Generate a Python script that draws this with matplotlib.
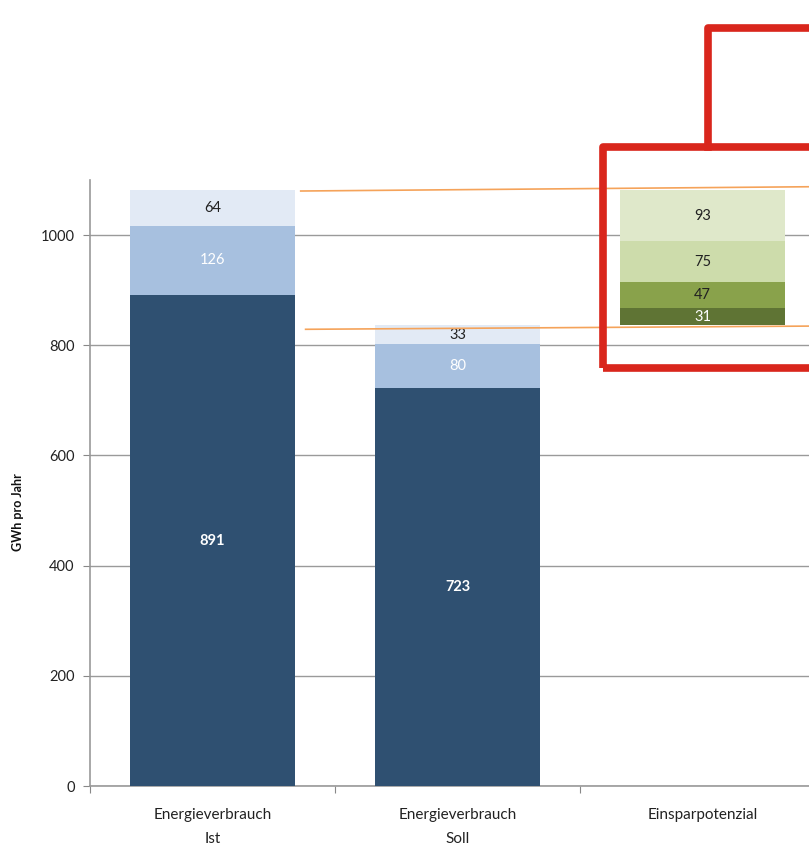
import matplotlib.pyplot as plt
from matplotlib.patches import Rectangle
from matplotlib.lines import Line2D

plt.rcParams['font.family'] = ['Lato', 'DejaVu Sans']

# Daten (GWh pro Jahr)
kategorien = ["Energieverbrauch\nIst", "Energieverbrauch\nSoll", "Einsparpotenzial"]
ist_werte = [891, 126, 64]
soll_werte = [723, 80, 33]
einspar_werte = [31, 47, 75, 93]

blau_farben = ["#2F5071", "#A7C0DF", "#E2EAF5"]
blau_text = ["white", "white", "#222222"]
blau_bold = ["bold", "normal", "normal"]
gruen_farben = ["#5F7434", "#89A24B", "#CDDCAB", "#DFE8CA"]
gruen_text = ["white", "#222222", "#222222", "#222222"]

fig = plt.figure(figsize=(8.09, 8.48), dpi=100)
ax = fig.add_axes([90 / 809, 62 / 848, 735 / 809, 606 / 848])

breite = 0.673
x = [0.5, 1.5, 2.5]

# Ist und Soll gestapelt
for xi, werte in [(x[0], ist_werte), (x[1], soll_werte)]:
    unten = 0
    for i, w in enumerate(werte):
        ax.bar(xi, w, breite, bottom=unten, color=blau_farben[i], zorder=3)
        ax.text(xi, unten + w / 2, str(w), ha="center", va="center",
                color=blau_text[i], fontsize=10.5, fontweight=blau_bold[i], zorder=4)
        unten += w

# Einsparpotenzial schwebend ab Soll-Summe
unten = sum(soll_werte)
for i, w in enumerate(einspar_werte):
    ax.bar(x[2], w, breite, bottom=unten, color=gruen_farben[i], zorder=3)
    ax.text(x[2], unten + w / 2, str(w), ha="center", va="center",
            color=gruen_text[i], fontsize=10.5, zorder=4)
    unten += w

# orange Verbindungslinien
ist_summe = sum(ist_werte)
soll_summe = sum(soll_werte)
ax.plot([0.86, 3.0], [ist_summe - 1, ist_summe + 7], color="#F5A35A", lw=1.2,
        zorder=5, clip_on=False)
ax.plot([0.88, 3.0], [soll_summe - 7, soll_summe - 1], color="#F5A35A", lw=1.2,
        zorder=5, clip_on=False)

ax.set_xlim(0, 3)
ax.set_ylim(0, 1100)
ax.set_yticks([0, 200, 400, 600, 800, 1000])
ax.set_xticks([0, 1, 2, 3])
ax.set_xticklabels([])
ax.set_xticks(x, minor=True)
ax.set_xticklabels(kategorien, minor=True, fontsize=11, color="#222222", linespacing=1.9)
ax.tick_params(axis="x", which="minor", length=0, pad=16)
ax.tick_params(axis="x", which="major", length=5, color="#888888", direction="out")
ax.tick_params(axis="y", length=5, color="#888888", labelsize=10.5, labelcolor="#222222", pad=6)

ax.yaxis.grid(True, color="#9A9A9A", lw=1.0, zorder=0)
for s in ["top", "right"]:
    ax.spines[s].set_visible(False)
for s in ["left", "bottom"]:
    ax.spines[s].set_color("#999999")
    ax.spines[s].set_linewidth(1.2)

fig.text(18 / 809, 1 - 512 / 848, "GWh pro Jahr", rotation=90, ha="center", va="center",
         fontsize=9, fontweight="bold", color="#111111")

# roter Rahmen
rot = "#D9261C"
W, H = 809, 848
fig.patches.append(Rectangle((603 / W, 1 - 368 / H), 230 / W, 221 / H, fill=False,
                             edgecolor=rot, lw=5.5, transform=fig.transFigure,
                             joinstyle="round", zorder=10))
fig.lines.append(Line2D([708 / W, 708 / W, 830 / W], [1 - 147 / H, 1 - 28 / H, 1 - 28 / H],
                        color=rot, lw=5.5, transform=fig.transFigure,
                        solid_joinstyle="round", zorder=10))

fig.savefig("out.png", dpi=100)
